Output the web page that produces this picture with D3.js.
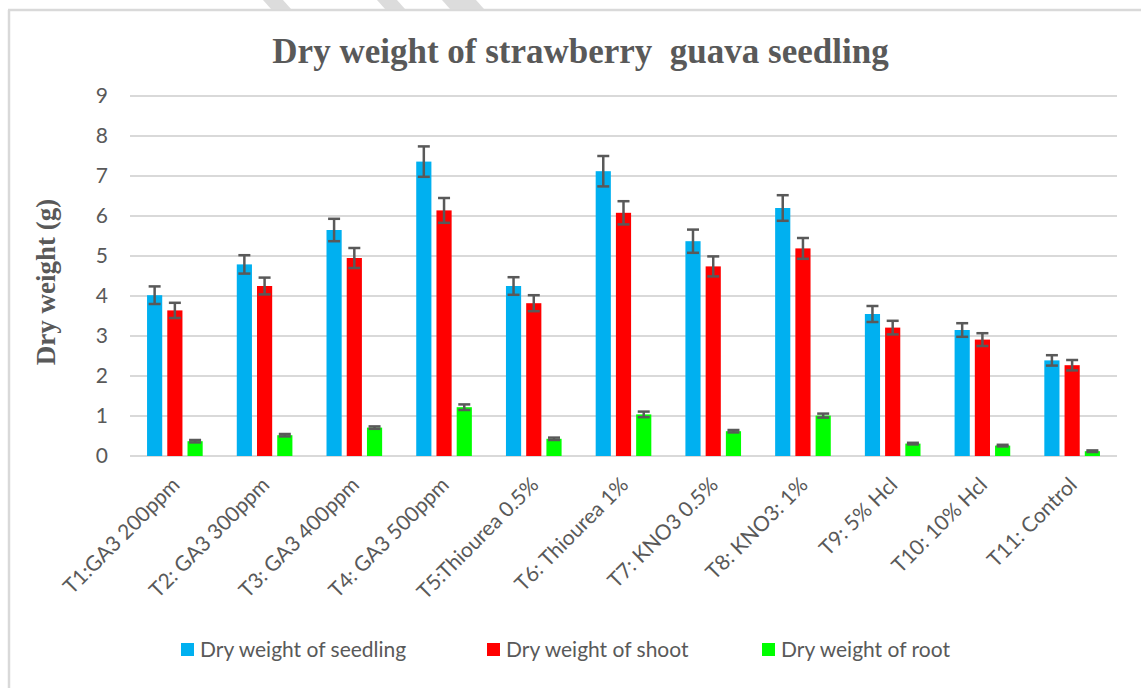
<!DOCTYPE html>
<html>
<head>
<meta charset="utf-8">
<script src="https://cdn.jsdelivr.net/npm/d3@7"></script>
<style>
  html, body { margin: 0; padding: 0; background: #fff; }
  svg { display: block; }
</style>
</head>
<body>
<svg id="chart" width="1141" height="688"></svg>
<script>
// ---- data ----
const categories = ["T1:GA3 200ppm", "T2: GA3 300ppm", "T3: GA3 400ppm", "T4: GA3 500ppm",
  "T5:Thiourea 0.5%", "T6: Thiourea 1%", "T7: KNO3 0.5%", "T8: KNO3: 1%",
  "T9: 5% Hcl", "T10: 10% Hcl", "T11: Control"];
const seriesNames = ["Dry weight of seedling", "Dry weight of shoot", "Dry weight of root"];
const seedling = [4.02, 4.79, 5.65, 7.36, 4.25, 7.12, 5.37, 6.20, 3.55, 3.15, 2.39];
const seedlingErr = [0.22, 0.23, 0.28, 0.38, 0.22, 0.38, 0.29, 0.32, 0.20, 0.17, 0.13];
const shoot = [3.64, 4.25, 4.95, 6.14, 3.82, 6.08, 4.74, 5.19, 3.21, 2.91, 2.27];
const shootErr = [0.19, 0.21, 0.25, 0.31, 0.20, 0.29, 0.25, 0.26, 0.17, 0.16, 0.13];
const root = [0.37, 0.52, 0.71, 1.22, 0.43, 1.04, 0.62, 1.01, 0.31, 0.26, 0.12];
const rootErr = [0.03, 0.03, 0.03, 0.07, 0.03, 0.07, 0.03, 0.05, 0.02, 0.02, 0.02];
const yTicks = [0, 1, 2, 3, 4, 5, 6, 7, 8, 9];
const colors = ["#00B0F0", "#FF0000", "#00FF00"];

const values = [seedling, shoot, root];
const errors = [seedlingErr, shootErr, rootErr];

// ---- layout ----
const svg = d3.select("#chart");
const plotLeft = 130, plotRight = 1117, plotTop = 96, plotBottom = 456;
const textGray = "#595959";
const gridGray = "#d9d9d9";
const sansFont = "Lato, 'Open Sans', sans-serif";
const serifFont = "'Liberation Serif', 'DejaVu Serif', serif";

// watermark stripes at top
const stripes = [[263, 20], [377, 20], [442, 34]];
svg.append("g").selectAll("path").data(stripes).join("path")
  .attr("d", d => `M${d[0]},0 L${d[0] + d[1]},0 L${d[0] + d[1] + 8},9 L${d[0] + 8},9 Z`)
  .attr("fill", "#dcdcdc");

// frame (top and left border)
svg.append("line").attr("x1", 8).attr("x2", 1141).attr("y1", 10).attr("y2", 10)
  .attr("stroke", gridGray).attr("stroke-width", 2.5);
svg.append("line").attr("x1", 9).attr("x2", 9).attr("y1", 10).attr("y2", 688)
  .attr("stroke", gridGray).attr("stroke-width", 2.5);

const y = d3.scaleLinear().domain([0, 9]).range([plotBottom, plotTop]);
const x0 = d3.scaleBand().domain(categories).range([plotLeft, plotRight])
  .paddingInner(0.38).paddingOuter(0.19);
const x1 = d3.scaleBand().domain(seriesNames).range([0, x0.bandwidth()]).paddingInner(0.25);

// gridlines
svg.append("g").selectAll("line").data(yTicks).join("line")
  .attr("x1", plotLeft).attr("x2", plotRight)
  .attr("y1", d => y(d)).attr("y2", d => y(d))
  .attr("stroke", gridGray).attr("stroke-width", 2);

// y axis labels
const yAxis = d3.axisLeft(y).tickValues(yTicks).tickSize(0).tickPadding(0);
const yg = svg.append("g").attr("transform", `translate(108,0)`).call(yAxis);
yg.select(".domain").remove();
yg.selectAll("text").attr("fill", textGray).attr("font-family", sansFont).attr("font-size", 21);

// bars
const groups = svg.append("g").selectAll("g").data(categories).join("g")
  .attr("transform", c => `translate(${x0(c)},0)`);

seriesNames.forEach((s, si) => {
  groups.append("rect")
    .attr("x", x1(s))
    .attr("width", x1.bandwidth())
    .attr("y", (c, i) => y(values[si][i]))
    .attr("height", (c, i) => y(0) - y(values[si][i]))
    .attr("fill", colors[si]);
});

// error bars
const capW = 12;
seriesNames.forEach((s, si) => {
  const cx = x1(s) + x1.bandwidth() / 2;
  const eg = groups.append("g").attr("stroke", textGray).attr("stroke-width", 2.5).attr("fill", "none");
  eg.append("line").attr("x1", cx).attr("x2", cx)
    .attr("y1", (c, i) => y(values[si][i] + errors[si][i]))
    .attr("y2", (c, i) => y(values[si][i] - errors[si][i]));
  eg.append("line").attr("x1", cx - capW / 2).attr("x2", cx + capW / 2)
    .attr("y1", (c, i) => y(values[si][i] + errors[si][i]))
    .attr("y2", (c, i) => y(values[si][i] + errors[si][i]));
  eg.append("line").attr("x1", cx - capW / 2).attr("x2", cx + capW / 2)
    .attr("y1", (c, i) => y(values[si][i] - errors[si][i]))
    .attr("y2", (c, i) => y(values[si][i] - errors[si][i]));
});

// x axis category labels
svg.append("g").selectAll("text").data(categories).join("text")
  .attr("transform", c => `translate(${x0(c) + x0.bandwidth() / 2 + 1},${plotBottom + 25}) rotate(-45)`)
  .attr("text-anchor", "end")
  .attr("dy", "0.35em")
  .attr("fill", textGray)
  .attr("font-family", sansFont)
  .attr("font-size", 21)
  .text(c => c);

// title
svg.append("text")
  .attr("x", 580.5).attr("y", 63)
  .attr("text-anchor", "middle")
  .attr("fill", textGray)
  .attr("font-family", serifFont)
  .attr("font-weight", "bold")
  .attr("font-size", 35)
  .style("white-space", "pre")
  .text("Dry weight of strawberry  guava seedling");

// y axis title
svg.append("text")
  .attr("transform", `translate(55,282) rotate(-90)`)
  .attr("text-anchor", "middle")
  .attr("fill", textGray)
  .attr("font-family", serifFont)
  .attr("font-weight", "bold")
  .attr("font-size", 27)
  .text("Dry weight (g)");

// legend
const legendX = [181, 487, 762];
const lg = svg.append("g").selectAll("g").data(seriesNames).join("g")
  .attr("transform", (d, i) => `translate(${legendX[i]},643)`);
lg.append("rect").attr("width", 13).attr("height", 13).attr("fill", (d, i) => colors[i]);
lg.append("text").attr("x", 19).attr("y", 6.5).attr("dy", "0.35em")
  .attr("fill", textGray).attr("font-family", sansFont).attr("font-size", 21)
  .text(d => d);
</script>
</body>
</html>
